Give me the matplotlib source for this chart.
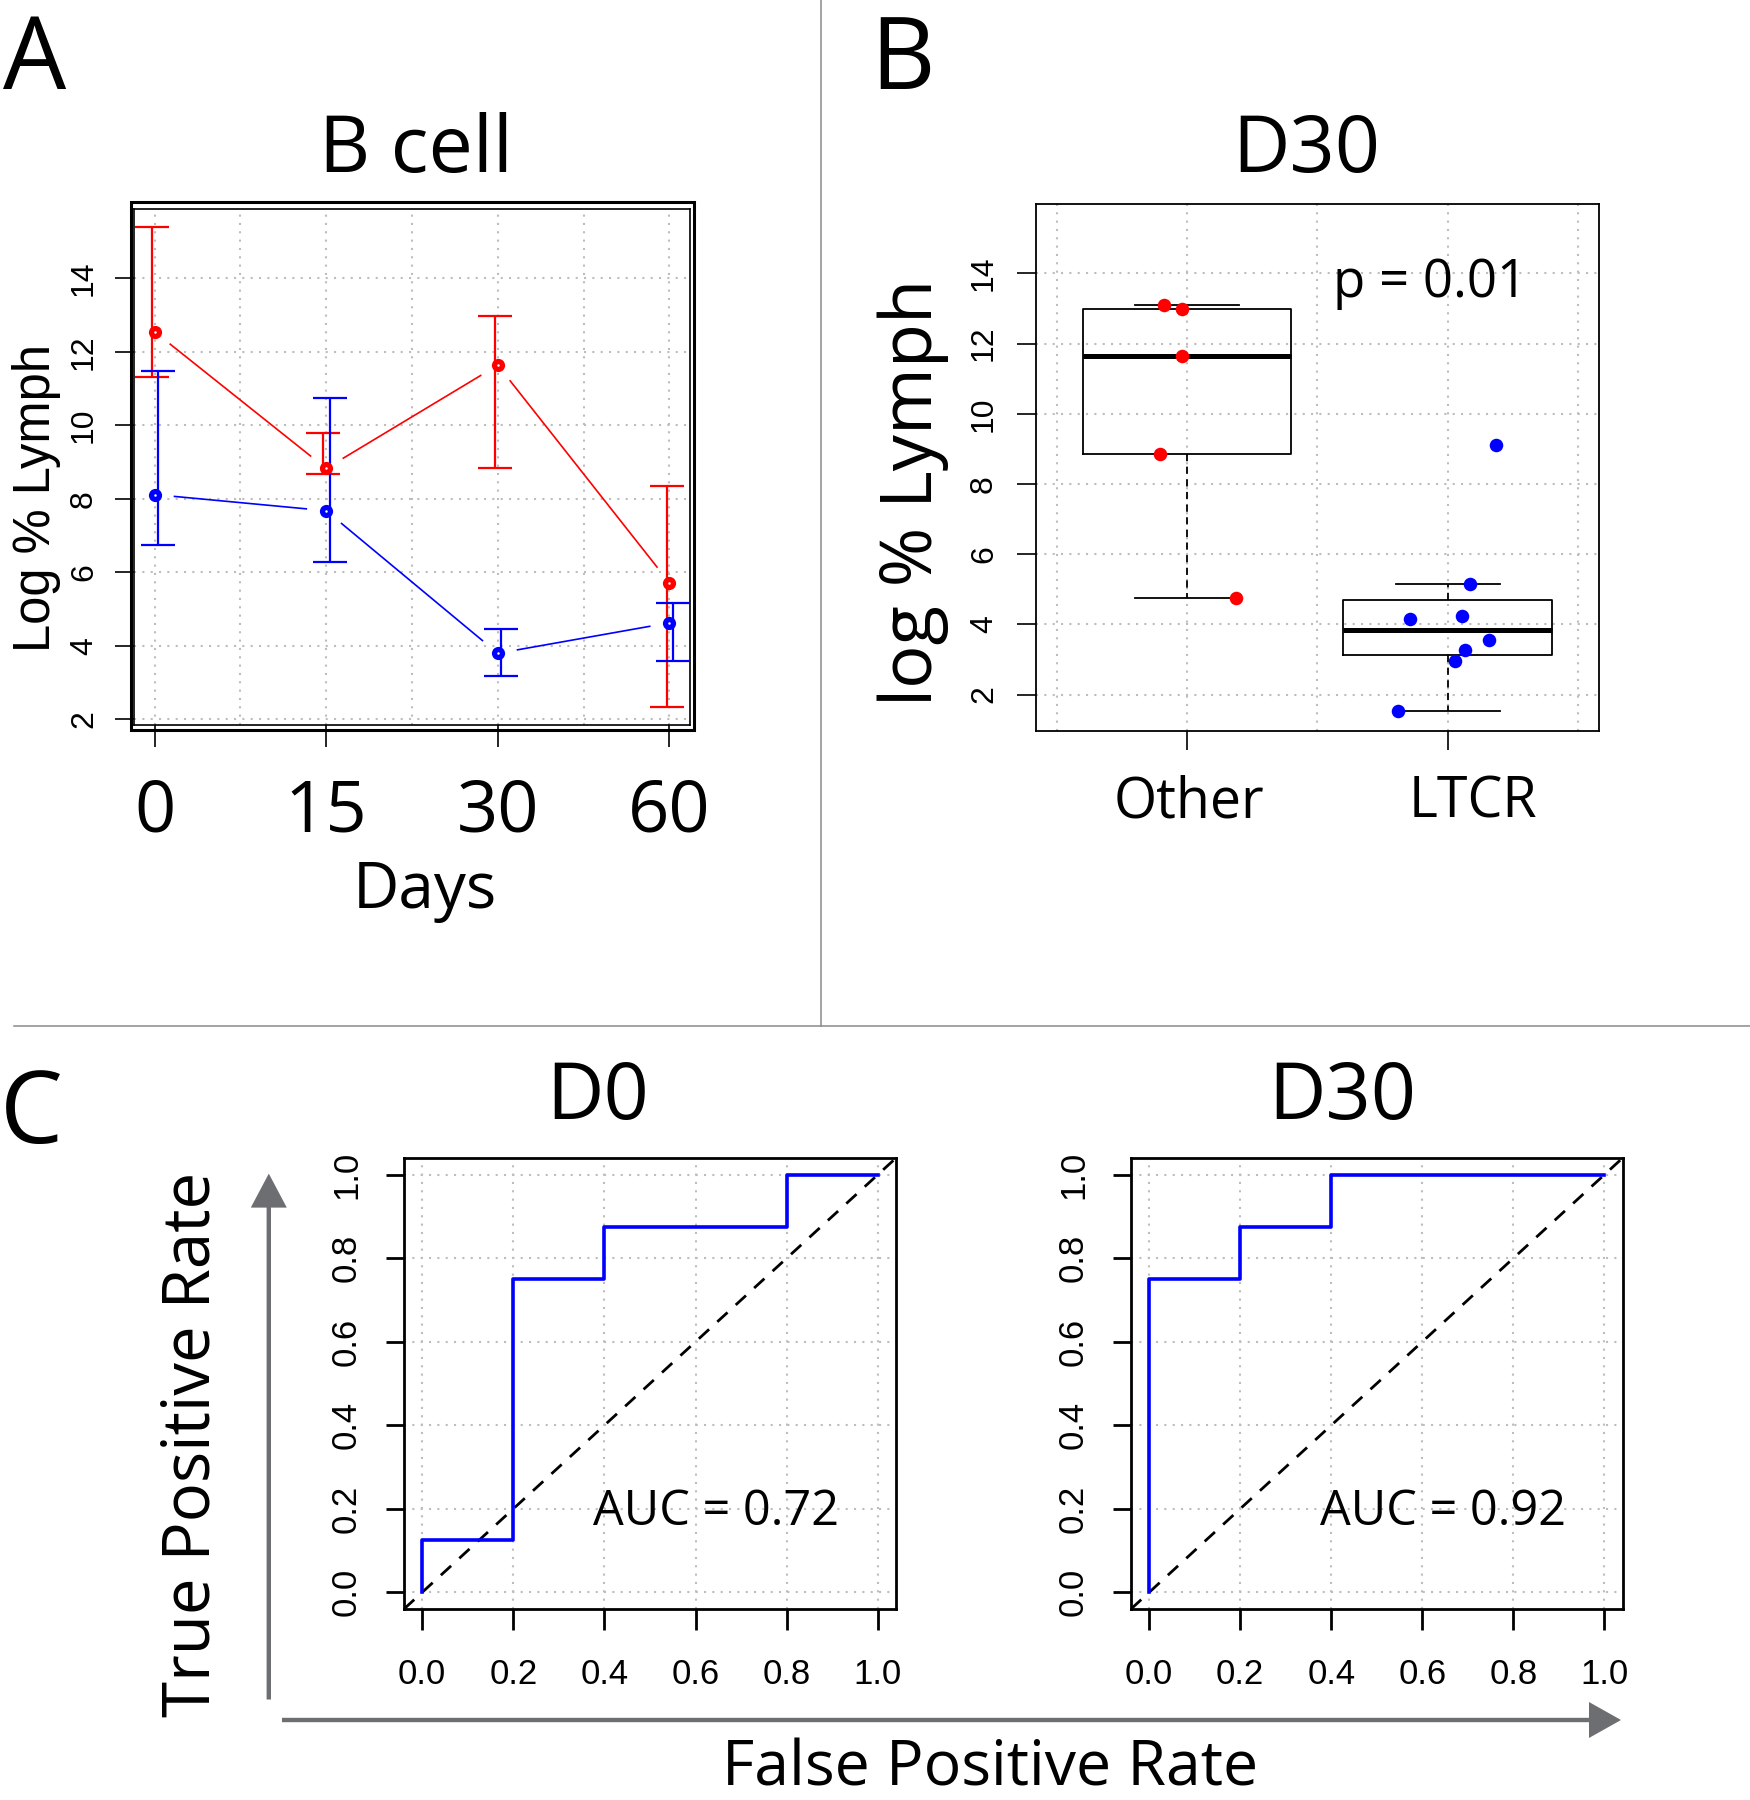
import numpy as np
import matplotlib
matplotlib.use("Agg")
import matplotlib.pyplot as plt
from matplotlib.patches import Rectangle, FancyArrow
from matplotlib import transforms

plt.rcParams['font.family'] = ['Open Sans', 'DejaVu Sans']

# ---------------- data ----------------
days_labels = ['0', '15', '30', '60']
red_mean = [12.55, 8.83, 11.64, 5.72]
red_low = [11.33, 8.68, 8.84, 2.33]
red_high = [15.40, 9.80, 12.97, 8.36]
blue_mean = [8.12, 7.68, 3.80, 4.63]
blue_low = [6.74, 6.29, 3.18, 3.59]
blue_high = [11.48, 10.74, 4.45, 5.17]

group_labels = ['Other', 'LTCR']
other_vals = [13.11, 12.98, 11.66, 8.85, 4.76]
other_jit = [0.912, 0.982, 0.982, 0.897, 1.188]
ltcr_vals = [4.15, 4.24, 5.16, 3.55, 3.27, 2.97, 1.53, 9.12]
ltcr_jit = [1.855, 2.053, 2.084, 2.159, 2.066, 2.026, 1.81, 2.185]
p_text = 'p = 0.01'

d0_fpr = [0, 0, 0.2, 0.2, 0.4, 0.4, 0.8, 0.8, 1.0]
d0_tpr = [0, 0.125, 0.125, 0.75, 0.75, 0.875, 0.875, 1.0, 1.0]
d30_fpr = [0, 0, 0.2, 0.2, 0.4, 0.4, 1.0]
d30_tpr = [0, 0.75, 0.75, 0.875, 0.875, 1.0, 1.0]
auc_d0 = 'AUC = 0.72'
auc_d30 = 'AUC = 0.92'
roc_ticks = [0.0, 0.2, 0.4, 0.6, 0.8, 1.0]
lymph_ticks = [2, 4, 6, 8, 10, 12, 14]

# ---------------- layout helpers ----------------
W, H = 1750, 1800
fig = plt.figure(figsize=(W / 100, H / 100), dpi=100)


def axpos(l, t, r, b):
    return [l / W, 1 - b / H, (r - l) / W, (b - t) / H]


GRID = dict(color='#bdbdbd', lw=1.5, ls=(0, (1, 3)), zorder=0)
RED, BLUE = '#ff0000', '#0000ff'
TICKFONT = 'Liberation Sans'

# overlay in pixel coordinates
ax0 = fig.add_axes([0, 0, 1, 1], facecolor='none')
ax0.set_xlim(0, W)
ax0.set_ylim(H, 0)
ax0.axis('off')
ax0.set_zorder(10)


def ylabels_rot(ax, ticks, xbase, size):
    tr = transforms.blended_transform_factory(ax0.transData, ax.transData)
    for v in ticks:
        ax0.text(xbase, v, ('%.1f' % v) if isinstance(v, float) else str(v),
                 transform=tr, rotation=90, rotation_mode='anchor',
                 ha='center', va='baseline', fontsize=size, family=TICKFONT)


def xlabels(ax, ticks, labels, ybase, size, family=None, offsets=None):
    tr = transforms.blended_transform_factory(ax.transData, ax0.transData)
    for i, (v, lab) in enumerate(zip(ticks, labels)):
        t = ax0.text(v, ybase, lab, transform=tr, ha='center', va='baseline',
                     fontsize=size, family=family or plt.rcParams['font.family'])
        if offsets:
            t.set_transform(tr + transforms.ScaledTranslation(offsets[i] / 100, 0, fig.dpi_scale_trans))


# ---------------- Panel A ----------------
axA = fig.add_axes(axpos(134, 208.6, 690, 725))
axA.set_xlim(0.88, 4.12)
axA.set_ylim(1.85, 15.9)
for x in np.arange(1, 4.01, 0.5):
    axA.axvline(x, **GRID)
for y in lymph_ticks:
    axA.axhline(y, **GRID)
pos = np.arange(1, len(days_labels) + 1)
axA.set_xticks(pos)
axA.set_yticks(lymph_ticks)
axA.tick_params(axis='x', direction='out', length=16, width=1.2, labelbottom=False)
axA.tick_params(axis='y', direction='out', length=14, width=1.2, labelleft=False)
for s in axA.spines.values():
    s.set_linewidth(1.2)


def gapped_line(ax, xs, ys, color, gap_px=20):
    pts = ax.transData.transform(np.column_stack([xs, ys]))
    inv = ax.transData.inverted()
    for p, q in zip(pts[:-1], pts[1:]):
        d = q - p
        u = d / np.hypot(*d)
        seg = inv.transform([p + u * gap_px, q - u * gap_px])
        ax.plot(seg[:, 0], seg[:, 1], color=color, lw=1.2, zorder=2)


for mean, lo, hi, col, off in [(red_mean, red_low, red_high, RED, -0.016),
                               (blue_mean, blue_low, blue_high, BLUE, 0.02)]:
    mean = np.array(mean)
    yerr = [mean - np.array(lo), np.array(hi) - mean]
    axA.errorbar(pos + off, mean, yerr=yerr, fmt='none', ecolor=col, elinewidth=1.6,
                 capsize=12.5, capthick=1.6, zorder=3)
    gapped_line(axA, pos, mean, col)
    axA.plot(pos, mean, 'o', ms=9.5, mfc=col, mec=col, mew=0, zorder=4)
    axA.plot(pos, mean, 'o', ms=1.8, mfc='white', mec='white', mew=0, zorder=5)

ylabels_rot(axA, lymph_ticks, 92, 23)
xlabels(axA, pos, days_labels, 832, 52)
ax0.add_patch(Rectangle((131, 201.5), 563, 528, fill=False, lw=2.2, ec='black'))

# ---------------- Panel B ----------------
axB = fig.add_axes(axpos(1035.7, 204, 1599, 730.7))
axB.set_xlim(0.42, 2.58)
axB.set_ylim(0.97, 15.98)
for x in np.arange(0.5, 2.51, 0.5):
    axB.axvline(x, **GRID)
for y in lymph_ticks:
    axB.axhline(y, **GRID)


def tukey_stats(v):
    v = np.sort(np.asarray(v, float))
    n = len(v)
    n4 = np.floor((n + 3) / 2) / 2
    d = [1, n4, (n + 1) / 2, n + 1 - n4, n]
    f = [0.5 * (v[int(np.floor(di)) - 1] + v[int(np.ceil(di)) - 1]) for di in d]
    iqr = f[3] - f[1]
    lo = v[v >= f[1] - 1.5 * iqr].min()
    hi = v[v <= f[3] + 1.5 * iqr].max()
    return dict(med=f[2], q1=f[1], q3=f[3], whislo=lo, whishi=hi, fliers=[])


stats = [tukey_stats(other_vals), tukey_stats(ltcr_vals)]
axB.bxp(stats, positions=[1, 2], widths=0.8, capwidths=0.4, showfliers=False,
        boxprops=dict(lw=1.3, color='black'),
        medianprops=dict(lw=3.6, color='black', solid_capstyle='butt'),
        whiskerprops=dict(lw=1.3, color='black', ls=(0, (4, 3))),
        capprops=dict(lw=1.3, color='black'), manage_ticks=False, zorder=2)
axB.scatter(other_jit, other_vals, s=95, color=RED, linewidths=0, zorder=4)
axB.scatter(ltcr_jit, ltcr_vals, s=95, color=BLUE, linewidths=0, zorder=4)
axB.set_xticks([1, 2])
axB.set_yticks(lymph_ticks)
axB.tick_params(axis='x', direction='out', length=14, width=1.2, labelbottom=False)
axB.tick_params(axis='y', direction='out', length=14, width=1.2, labelleft=False)
for s in axB.spines.values():
    s.set_linewidth(1.3)
ylabels_rot(axB, lymph_ticks, 992, 23)
xlabels(axB, [1, 2], group_labels, 818, 40, offsets=[2, 25])
ax0.text(1430, 297, p_text, ha='center', va='baseline', fontsize=38)

# ---------------- Panel C ----------------
def roc_axes(l, r, fpr, tpr, auc, yl_base):
    ax = fig.add_axes(axpos(l, 1158, r, 1609))
    ax.set_xlim(-0.04, 1.04)
    ax.set_ylim(-0.04, 1.04)
    for v in roc_ticks:
        ax.axvline(v, **GRID)
        ax.axhline(v, **GRID)
    ax.axline((0, 0), (1, 1), color='black', lw=2.0, ls=(0, (5, 4)), zorder=2)
    ax.plot(fpr, tpr, color=BLUE, lw=2.6, zorder=3)
    ax.set_xticks(roc_ticks)
    ax.set_yticks(roc_ticks)
    ax.tick_params(axis='x', direction='out', length=15, width=2.0, labelbottom=False)
    ax.tick_params(axis='y', direction='out', length=13, width=2.0, labelleft=False)
    for s in ax.spines.values():
        s.set_linewidth(2.0)
    ax.text(0.645, 0.162, auc, ha='center', va='baseline', fontsize=35)
    ylabels_rot(ax, roc_ticks, yl_base, 25)
    xlabels(ax, roc_ticks, ['%.1f' % v for v in roc_ticks], 1684, 25, family=TICKFONT)
    return ax


roc_axes(404, 896, d0_fpr, d0_tpr, auc_d0, 356)
roc_axes(1131, 1622.6, d30_fpr, d30_tpr, auc_d30, 1083)

# ---------------- titles, labels, decorations ----------------
ax0.text(3, 89, 'A', ha='left', va='baseline', fontsize=72)
ax0.text(870, 89, 'B', ha='left', va='baseline', fontsize=72)
ax0.text(0, 1143, 'C', ha='left', va='baseline', fontsize=72)
ax0.text(416, 172, 'B cell', ha='center', va='baseline', fontsize=57)
ax0.text(1306, 172, 'D30', ha='center', va='baseline', fontsize=57)
ax0.text(598, 1119, 'D0', ha='center', va='baseline', fontsize=57)
ax0.text(1342, 1119, 'D30', ha='center', va='baseline', fontsize=57)
ax0.text(425, 908, 'Days', ha='center', va='baseline', fontsize=46)
ax0.text(50, 498, 'Log % Lymph', rotation=90, rotation_mode='anchor', ha='center',
         va='baseline', fontsize=36.5, family=TICKFONT)
ax0.text(931.7, 492.5, 'log % Lymph', rotation=90, rotation_mode='anchor', ha='center',
         va='baseline', fontsize=52)
ax0.text(210, 1444, 'True Positive Rate', rotation=90, rotation_mode='anchor', ha='center',
         va='baseline', fontsize=47)
ax0.text(990, 1786, 'False Positive Rate', ha='center', va='baseline', fontsize=45)

ax0.plot([821, 821], [0, 1026], color='#8a8a8a', lw=1.1)
ax0.plot([14, W], [1026, 1026], color='#8a8a8a', lw=1.1)
arrow_col = '#6d6e71'
ax0.add_patch(FancyArrow(268.8, 1699.5, 0, 1173.6 - 1699.5, width=4.4, head_width=36,
                         head_length=34, length_includes_head=True, color=arrow_col, lw=0))
ax0.add_patch(FancyArrow(282, 1720, 1621 - 282, 0, width=4.4, head_width=36,
                         head_length=32, length_includes_head=True, color=arrow_col, lw=0))

fig.savefig('out.png', dpi=100, facecolor='white')
